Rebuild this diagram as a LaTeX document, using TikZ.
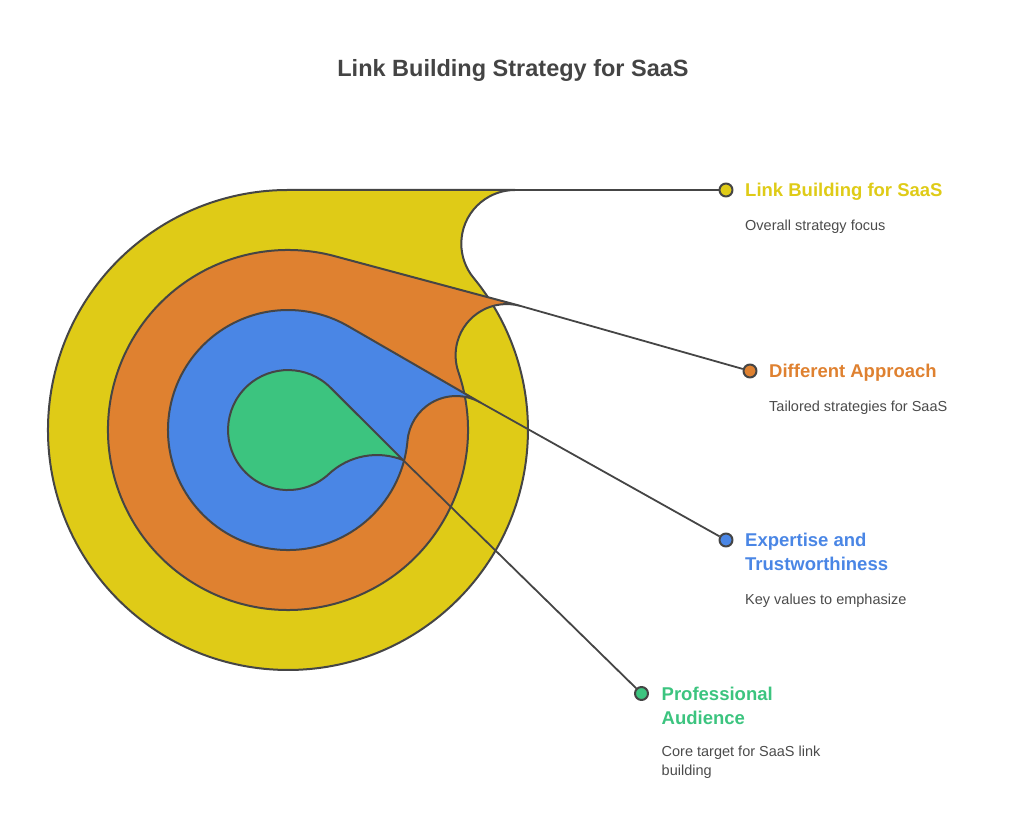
\documentclass[tikz,border=0pt]{standalone}
\usepackage{fontspec}
\setmainfont{Liberation Sans}
\usetikzlibrary{positioning}

\definecolor{ycol}{HTML}{DFCB17}
\definecolor{ocol}{HTML}{DF8130}
\definecolor{bcol}{HTML}{4A86E5}
\definecolor{gcol}{HTML}{3CC47F}
\definecolor{edge}{HTML}{454545}
\definecolor{txt}{HTML}{4B4B4B}
\definecolor{ttl}{HTML}{444444}

\begin{document}
\begin{tikzpicture}[x=1pt,y=1pt,line join=round,
    ring/.style={draw=edge,line width=2pt},
    link/.style={draw=edge,line width=1.8pt},
    dot/.style={circle,draw=edge,line width=2pt,minimum size=13pt,inner sep=0pt},
    head/.style={anchor=base west,inner sep=0pt,align=left,font=\bfseries\fontsize{18.5}{24}\selectfont},
    note/.style={anchor=base west,inner sep=0pt,align=left,text=txt,font=\fontsize{14.5}{19}\selectfont}]
    \useasboundingbox (-288,-397) rectangle (732,430);

    % title
    \node[anchor=base,inner sep=0pt,text=ttl,font=\bfseries\fontsize{23.5}{28}\selectfont] (title) at (225,353) {Link Building Strategy for SaaS};

    % draw the rings, outside in; all circles sit at the origin
    \draw[ring,fill=ycol] (0,240) -- (227,240) coordinate (ytip)
        arc[start angle=90,end angle=219.37,radius=53.7]
        arc[start angle=39.37,end angle=-270,radius=240] -- cycle;

    \begin{scope}[rotate=-15]
        \draw[ring,fill=ocol] (0,180) -- (192,180) coordinate (otip)
            arc[start angle=90,end angle=213.85,radius=51.2]
            arc[start angle=33.85,end angle=-270,radius=180] -- cycle;
    \end{scope}

    \begin{scope}[rotate=-30]
        \draw[ring,fill=bcol] (0,120) -- (153,120) coordinate (btip)
            arc[start angle=90,end angle=204.97,radius=48.77]
            arc[start angle=24.97,end angle=-270,radius=120] -- cycle;
    \end{scope}

    % the inner one has a wider notch
    \draw[ring,fill=gcol] (42.43,42.43) -- (115,-30) coordinate (gtip)
        arc[start angle=68.36,end angle=132.98,radius=70.5]
        arc[start angle=-47.02,end angle=-315,radius=60] -- cycle;

    % dots at the end of the leaders
    \node[dot,fill=ycol] (ydot) at (438,240) {};
    \node[dot,fill=ocol] (odot) at (462,59) {};
    \node[dot,fill=bcol] (bdot) at (438,-110) {};
    \node[dot,fill=gcol] (gdot) at (353.5,-263.5) {};

    \draw[link] (ytip) -- (ydot);
    \draw[link] (otip) -- (odot);
    \draw[link] (btip) -- (bdot);
    \draw[link] (gtip) -- (gdot);

    % labels (base of a two-line node is its last line)
    \node[head,text=ycol] (yhead) at ([xshift=19pt,yshift=-7pt]ydot.center) {Link Building for SaaS};
    \node[note] (ynote) at ([yshift=-34pt]yhead.base west) {Overall strategy focus};

    \node[head,text=ocol] (ohead) at ([xshift=19pt,yshift=-7pt]odot.center) {Different Approach};
    \node[note] (onote) at ([yshift=-34pt]ohead.base west) {Tailored strategies for SaaS};

    \node[head,text=bcol] (bhead) at ([xshift=19pt,yshift=-30pt]bdot.center) {Expertise and\\Trustworthiness};
    \node[note] (bnote) at ([yshift=-34pt]bhead.base west) {Key values to emphasize};

    \node[head,text=gcol] (ghead) at ([xshift=20pt,yshift=-31pt]gdot.center) {Professional\\Audience};
    \node[note] (gnote) at ([yshift=-51pt]ghead.base west) {Core target for SaaS link\\building};
\end{tikzpicture}
\end{document}
